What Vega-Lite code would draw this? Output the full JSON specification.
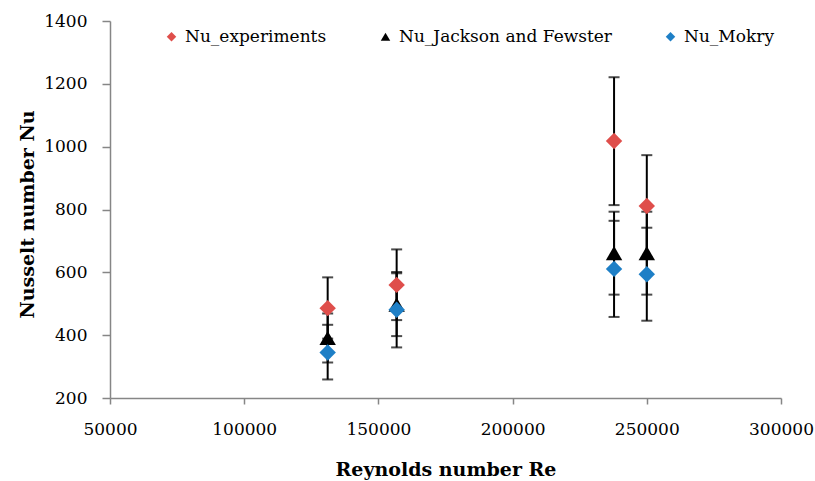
{
  "$schema": "https://vega.github.io/schema/vega-lite/v6.json",
  "width": 671,
  "height": 377,
  "autosize": {"type": "none"},
  "padding": {"left": 110, "top": 21, "right": 34, "bottom": 83},
  "background": "white",
  "config": {
    "view": {"stroke": null},
    "font": "DejaVu Serif",
    "axis": {
      "labelFont": "DejaVu Serif",
      "labelFontSize": 17,
      "labelColor": "#000000",
      "titleFont": "DejaVu Serif",
      "titleFontSize": 19,
      "titleFontWeight": "bold",
      "titleColor": "#000000",
      "domainColor": "#868686",
      "domainWidth": 1.5,
      "tickColor": "#868686",
      "tickWidth": 1.5,
      "grid": false
    }
  },
  "data": {
    "values": [
      {"Re": 131100, "series": "Nu_experiments", "Nu": 486, "lo": 389, "hi": 584},
      {"Re": 156800, "series": "Nu_experiments", "Nu": 560, "lo": 448, "hi": 673},
      {"Re": 237800, "series": "Nu_experiments", "Nu": 1018, "lo": 814, "hi": 1221},
      {"Re": 250000, "series": "Nu_experiments", "Nu": 811, "lo": 649, "hi": 973},
      {"Re": 131100, "series": "Nu_Jackson and Fewster", "Nu": 391, "lo": 313, "hi": 469},
      {"Re": 156800, "series": "Nu_Jackson and Fewster", "Nu": 497, "lo": 397, "hi": 597},
      {"Re": 237800, "series": "Nu_Jackson and Fewster", "Nu": 661, "lo": 529, "hi": 793},
      {"Re": 250000, "series": "Nu_Jackson and Fewster", "Nu": 661, "lo": 529, "hi": 793},
      {"Re": 131100, "series": "Nu_Mokry", "Nu": 345, "lo": 259, "hi": 433},
      {"Re": 156800, "series": "Nu_Mokry", "Nu": 481, "lo": 361, "hi": 601},
      {"Re": 237800, "series": "Nu_Mokry", "Nu": 611, "lo": 458, "hi": 764},
      {"Re": 250000, "series": "Nu_Mokry", "Nu": 594, "lo": 446, "hi": 742}
    ]
  },
  "encoding": {
    "x": {
      "field": "Re",
      "type": "quantitative",
      "scale": {"domain": [50000, 300000], "nice": false, "zero": false},
      "axis": {
        "title": "Reynolds number Re",
        "values": [50000, 100000, 150000, 200000, 250000, 300000],
        "format": "d",
        "tickSize": 6,
        "labelPadding": 17,
        "labelFlush": false,
        "titleBaseline": "alphabetic",
        "titleY": 77
      }
    }
  },
  "layer": [
    {
      "mark": {"type": "rule", "color": "#000000", "strokeWidth": 2},
      "encoding": {
        "y": {
          "field": "lo",
          "type": "quantitative",
          "scale": {"domain": [200, 1400], "nice": false, "zero": false},
          "axis": {
            "title": "Nusselt number Nu",
            "values": [200, 400, 600, 800, 1000, 1200, 1400],
            "format": "d",
            "tickSize": 8,
            "labelPadding": 15,
            "labelFlush": false,
            "titleBaseline": "alphabetic",
            "titleAngle": -90,
            "titleX": -77,
            "titleY": 193,
            "titleAlign": "center"
          }
        },
        "y2": {"field": "hi"}
      }
    },
    {
      "mark": {"type": "tick", "orient": "horizontal", "color": "#000000", "size": 11, "thickness": 2},
      "encoding": {"y": {"field": "lo", "type": "quantitative"}}
    },
    {
      "mark": {"type": "tick", "orient": "horizontal", "color": "#000000", "size": 11, "thickness": 2},
      "encoding": {"y": {"field": "hi", "type": "quantitative"}}
    },
    {
      "mark": {"type": "point", "filled": true, "opacity": 1, "size": 270},
      "encoding": {
        "y": {"field": "Nu", "type": "quantitative"},
        "color": {
          "field": "series",
          "type": "nominal",
          "scale": {
            "domain": ["Nu_experiments", "Nu_Jackson and Fewster", "Nu_Mokry"],
            "range": ["#DF4E4B", "#000000", "#1E7FC6"]
          },
          "legend": {
            "title": null,
            "orient": "none",
            "legendX": 53,
            "legendY": 7,
            "direction": "horizontal",
            "columns": 3,
            "columnPadding": 50,
            "padding": 0,
            "labelFont": "DejaVu Serif",
            "labelFontSize": 17,
            "labelColor": "#000000",
            "labelLimit": 400,
            "labelOffset": 5,
            "symbolSize": 90,
            "symbolStrokeWidth": 0
          }
        },
        "shape": {
          "field": "series",
          "type": "nominal",
          "scale": {
            "domain": ["Nu_experiments", "Nu_Jackson and Fewster", "Nu_Mokry"],
            "range": ["diamond", "triangle-up", "diamond"]
          },
          "legend": null
        }
      }
    }
  ]
}
